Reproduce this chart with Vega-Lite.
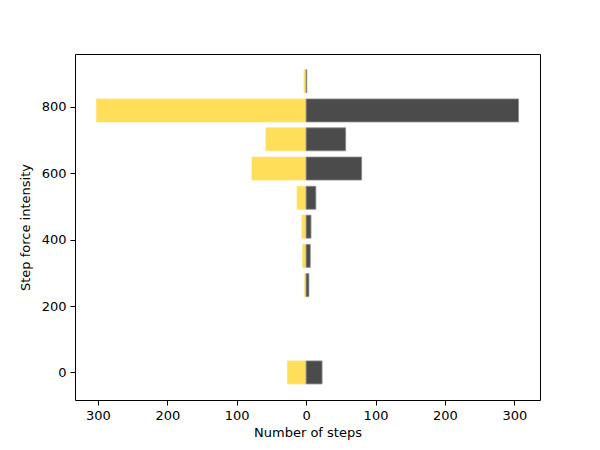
{
  "$schema": "https://vega.github.io/schema/vega-lite/v6.json",
  "width": 465,
  "height": 346,
  "autosize": {"type": "none"},
  "padding": {"left": 75, "top": 54, "right": 60, "bottom": 50},
  "background": "white",
  "config": {
    "font": "DejaVu Sans",
    "view": {"stroke": "black", "strokeWidth": 1},
    "axis": {
      "labelFont": "DejaVu Sans",
      "titleFont": "DejaVu Sans",
      "labelFontSize": 13,
      "titleFontSize": 13,
      "titleFontWeight": "normal",
      "labelColor": "#000000",
      "titleColor": "#000000",
      "tickColor": "#000000",
      "tickSize": 5,
      "tickWidth": 1,
      "labelPadding": 4,
      "domain": false,
      "grid": false
    }
  },
  "data": {
    "values": [
      {"intensity": 877, "side": "left", "steps": -3},
      {"intensity": 877, "side": "right", "steps": 1},
      {"intensity": 789, "side": "left", "steps": -302},
      {"intensity": 789, "side": "right", "steps": 306},
      {"intensity": 702, "side": "left", "steps": -58},
      {"intensity": 702, "side": "right", "steps": 57},
      {"intensity": 614, "side": "left", "steps": -78},
      {"intensity": 614, "side": "right", "steps": 80},
      {"intensity": 526, "side": "left", "steps": -13},
      {"intensity": 526, "side": "right", "steps": 14},
      {"intensity": 439, "side": "left", "steps": -6},
      {"intensity": 439, "side": "right", "steps": 7},
      {"intensity": 351, "side": "left", "steps": -5},
      {"intensity": 351, "side": "right", "steps": 6},
      {"intensity": 263, "side": "left", "steps": -2},
      {"intensity": 263, "side": "right", "steps": 4},
      {"intensity": 0, "side": "left", "steps": -27},
      {"intensity": 0, "side": "right", "steps": 23}
    ]
  },
  "mark": {"type": "bar", "height": 23, "strokeWidth": 0.8},
  "encoding": {
    "x": {
      "field": "steps",
      "type": "quantitative",
      "scale": {"domain": [-333, 337], "nice": false, "zero": false, "padding": 0},
      "axis": {
        "title": "Number of steps",
        "values": [-300, -200, -100, 0, 100, 200, 300],
        "labelExpr": "abs(datum.value)",
        "titlePadding": 4
      }
    },
    "x2": {"datum": 0},
    "y": {
      "field": "intensity",
      "type": "quantitative",
      "scale": {"domain": [-83, 959], "nice": false, "zero": false, "padding": 0},
      "axis": {
        "title": "Step force intensity",
        "values": [0, 200, 400, 600, 800],
        "titlePadding": 9
      }
    },
    "color": {
      "field": "side",
      "type": "nominal",
      "scale": {"domain": ["left", "right"], "range": ["#FFDE59", "#4B4B4B"]},
      "legend": null
    },
    "stroke": {
      "field": "side",
      "type": "nominal",
      "scale": {"domain": ["left", "right"], "range": ["#FFE27A", "#8A8A8A"]},
      "legend": null
    }
  }
}
